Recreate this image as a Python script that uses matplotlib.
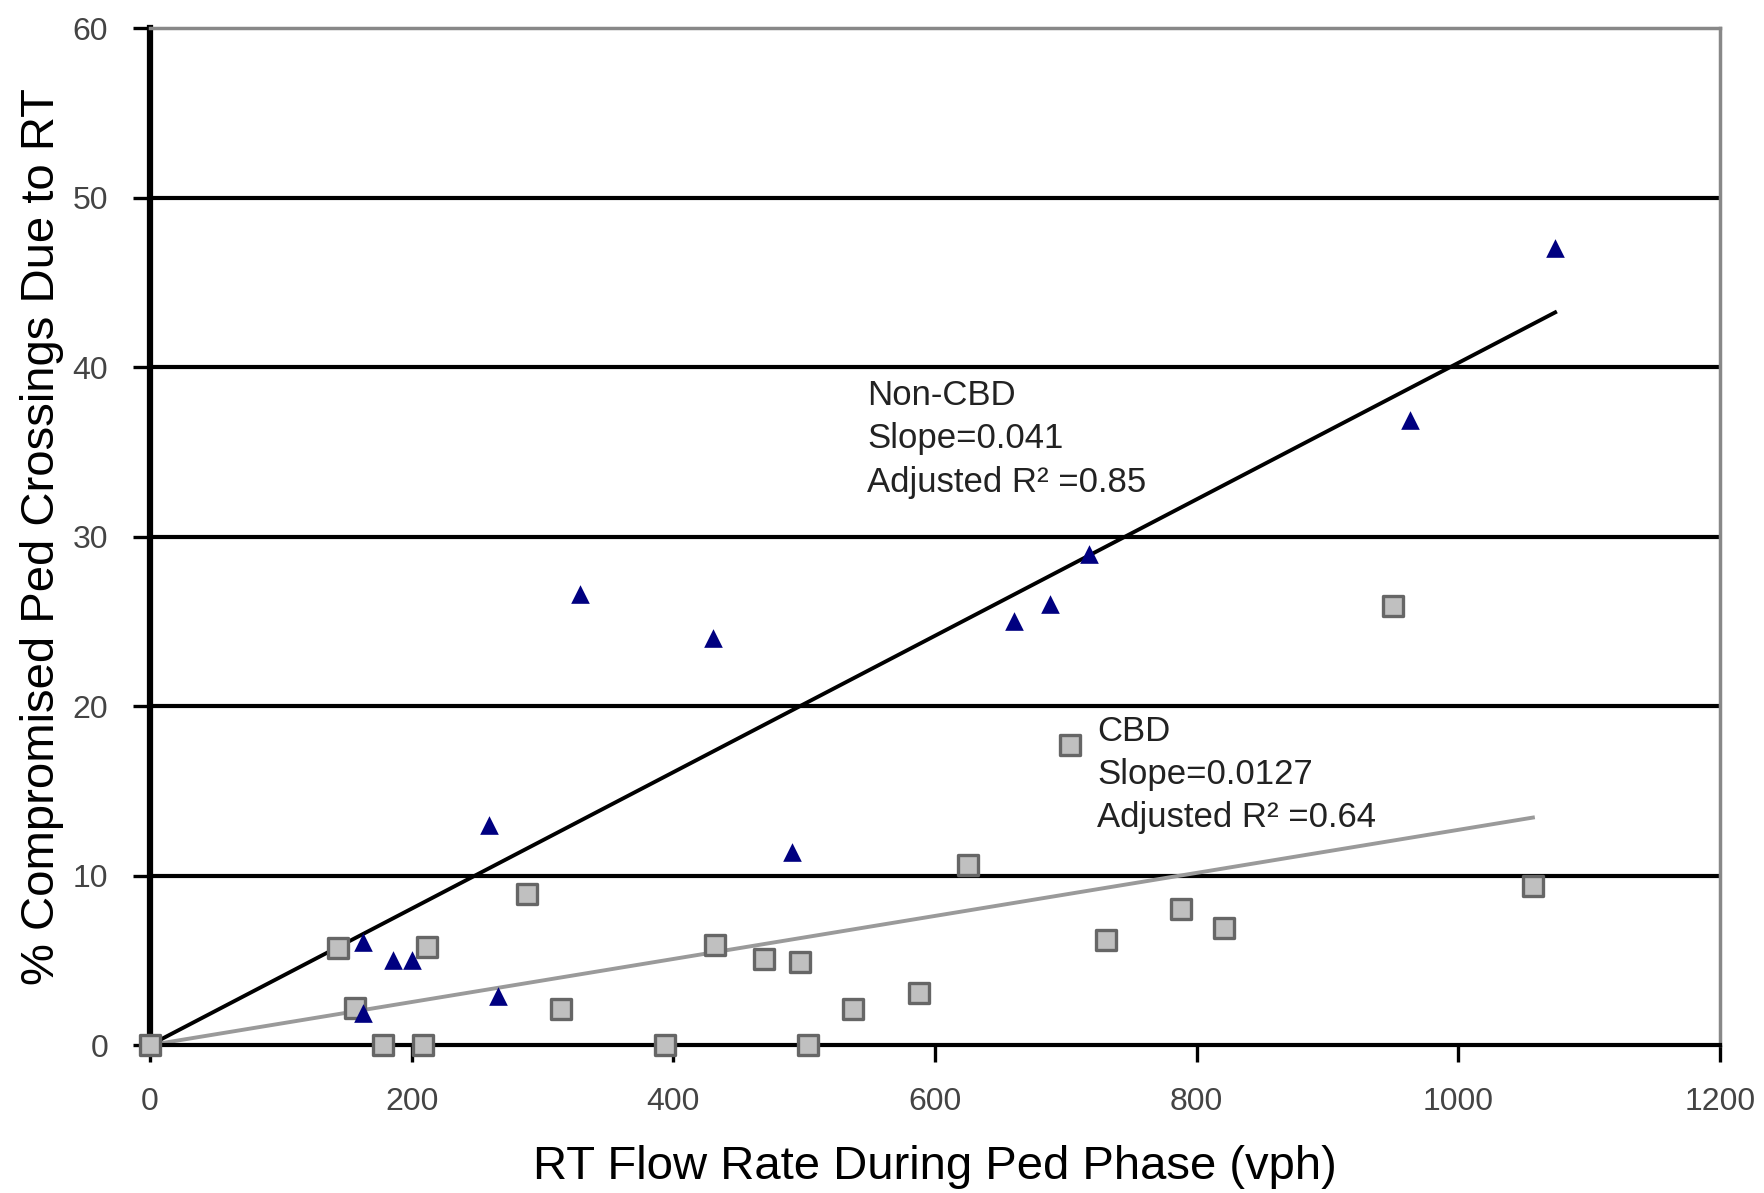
import numpy as np
import matplotlib.pyplot as plt

# Non-CBD sites (triangles)
noncbd_flow = [163, 163, 186, 200, 259, 266, 329, 430, 491, 660, 688, 718, 963, 1074]
noncbd_pct = [6.1, 1.9, 5.0, 5.0, 13.0, 2.9, 26.6, 24.0, 11.4, 25.0, 26.0, 29.0, 36.9, 47.0]

# CBD sites (squares)
cbd_flow = [0, 144, 157, 178, 209, 212, 288, 314, 394, 432, 469, 497, 503, 537,
            588, 625, 703, 731, 788, 821, 950, 1057]
cbd_pct = [0, 5.7, 2.2, 0, 0, 5.8, 8.9, 2.1, 0, 5.9, 5.1, 4.9, 0, 2.1,
           3.1, 10.6, 17.7, 6.2, 8.0, 6.9, 25.9, 9.4]

yticks = [0, 10, 20, 30, 40, 50, 60]
xticks = [0, 200, 400, 600, 800, 1000, 1200]

plt.rcParams["font.family"] = ["Liberation Sans", "DejaVu Sans"]


def origin_fit(x, y):
    x = np.asarray(x, float)
    y = np.asarray(y, float)
    return (x * y).sum() / (x * x).sum()


fig = plt.figure(figsize=(17.65, 11.93), dpi=100)
ax = fig.add_axes([0.085, 0.124, 0.8895, 0.8525])

for yv in yticks[1:-1]:
    ax.axhline(yv, color="black", lw=3, zorder=1)

# trend lines through the origin
s1 = origin_fit(noncbd_flow, noncbd_pct)
xx1 = np.array([0, max(noncbd_flow)])
ax.plot(xx1, s1 * xx1, color="black", lw=2.8, zorder=2)
s2 = origin_fit(cbd_flow, cbd_pct)
xx2 = np.array([0, max(cbd_flow)])
ax.plot(xx2, s2 * xx2, color="#9a9a9a", lw=2.8, zorder=2)

ax.scatter(cbd_flow, cbd_pct, marker="s", s=190, facecolor="#c0c0c0",
           edgecolor="#666666", linewidth=2.4, zorder=3, clip_on=False)
ax.scatter(noncbd_flow, noncbd_pct, marker="^", s=180, color="#000080",
           linewidth=0, zorder=4, clip_on=False)

ax.text(548, 39.3, "Non-CBD\nSlope=0.041\nAdjusted R² =0.85", fontsize=25,
        color="#222222", va="top", ha="left", linespacing=1.4)
ax.text(724, 19.5, "CBD\nSlope=0.0127\nAdjusted R² =0.64", fontsize=25,
        color="#222222", va="top", ha="left", linespacing=1.4)

ax.set_xlim(0, 1200)
ax.set_ylim(0, 60)
ax.set_xticks(xticks)
ax.set_yticks(yticks)
ax.tick_params(axis="both", labelsize=23, labelcolor="#444444", length=12, width=2.4,
               direction="out")
ax.tick_params(axis="x", pad=18)
ax.tick_params(axis="y", pad=18)

ax.spines["left"].set_linewidth(4.5)
ax.spines["bottom"].set_linewidth(3)
ax.spines["top"].set_color("#888888")
ax.spines["right"].set_color("#888888")
ax.spines["top"].set_linewidth(2.5)
ax.spines["right"].set_linewidth(2.5)

ax.set_xlabel("RT Flow Rate During Ped Phase (vph)", fontsize=34, labelpad=20)
ax.set_ylabel("% Compromised Ped Crossings Due to RT", fontsize=34, labelpad=6)

fig.savefig("out.png", dpi=100)
